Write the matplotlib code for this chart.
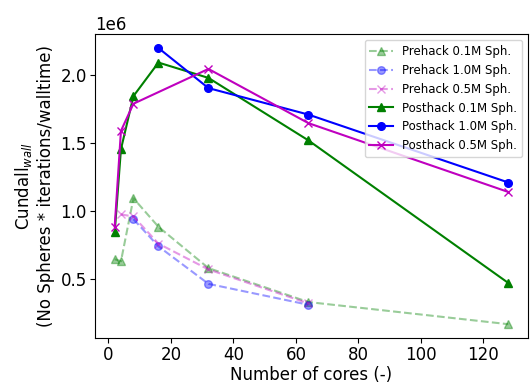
import matplotlib
matplotlib.use("Agg")
import matplotlib.pyplot as plt
from matplotlib.ticker import MultipleLocator

pre01_x = [2, 4, 8, 16, 32, 64, 128]
pre01_y = [0.645e6, 0.63e6, 1.094e6, 0.884e6, 0.58e6, 0.33e6, 0.167e6]
pre10_x = [8, 16, 32, 64]
pre10_y = [0.94e6, 0.74e6, 0.464e6, 0.31e6]
pre05_x = [4, 8, 16, 32, 64]
pre05_y = [0.975e6, 0.96e6, 0.76e6, 0.57e6, 0.32e6]
post01_x = [2, 4, 8, 16, 32, 64, 128]
post01_y = [0.843e6, 1.455e6, 1.846e6, 2.093e6, 1.98e6, 1.52e6, 0.47e6]
post10_x = [16, 32, 64, 128]
post10_y = [2.20e6, 1.905e6, 1.71e6, 1.21e6]
post05_x = [2, 4, 8, 32, 64, 128]
post05_y = [0.886e6, 1.59e6, 1.79e6, 2.046e6, 1.647e6, 1.14e6]

fig = plt.figure(figsize=(5.32, 3.87), dpi=100)
ax = fig.add_axes([0.1786, 0.1266, 0.814, 0.785])

ax.plot(pre01_x, pre01_y, 'g^--', alpha=0.4, markersize=5.5, label='Prehack 0.1M Sph.')
ax.plot(pre10_x, pre10_y, 'bo--', alpha=0.4, markersize=5.5, label='Prehack 1.0M Sph.')
ax.plot(pre05_x, pre05_y, 'mx--', alpha=0.4, markersize=5.5, label='Prehack 0.5M Sph.')
ax.plot(post01_x, post01_y, 'g^-', markersize=5.5, label='Posthack 0.1M Sph.')
ax.plot(post10_x, post10_y, 'bo-', markersize=5.5, label='Posthack 1.0M Sph.')
ax.plot(post05_x, post05_y, 'mx-', markersize=5.5, label='Posthack 0.5M Sph.')

ax.yaxis.set_major_locator(MultipleLocator(0.5e6))
ax.set_xlabel('Number of cores (-)', fontsize=12, labelpad=1)
ax.set_ylabel('Cundall$_{wall}$\n(No Spheres * iterations/walltime)', fontsize=12)
ax.tick_params(labelsize=12, pad=2.5)
ax.yaxis.get_offset_text().set_fontsize(12)
ax.legend(loc='upper right', fontsize=8.5)

fig.savefig('out.png', dpi=100)
